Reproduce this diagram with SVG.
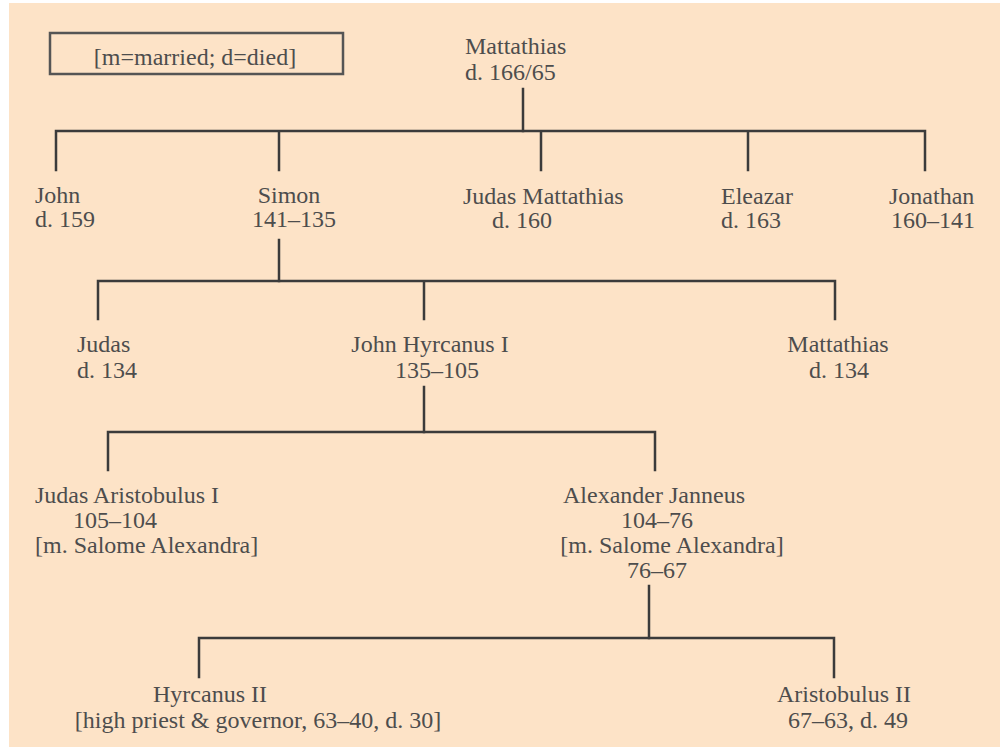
<svg xmlns="http://www.w3.org/2000/svg" width="1000" height="747" viewBox="0 0 1000 747">
  <style>
    .t { font-family: "Liberation Serif", "Times New Roman", serif; font-size: 24px; fill: #4d4d4d; }
    .m { text-anchor: middle; }
    .link { fill: none; stroke: #3b3b3b; stroke-width: 2.5; stroke-linejoin: miter; stroke-linecap: square; }
  </style>
  <rect x="0" y="0" width="1000" height="747" fill="#ffffff"/>
  <rect x="9" y="3" width="991" height="744" fill="#fde3c7"/>

  <!-- legend -->
  <g id="legend">
    <rect x="50" y="33" width="293" height="41" fill="none" stroke="#555" stroke-width="2.5"/>
    <text class="t m" x="195" y="65">[m=married; d=died]</text>
  </g>

  <!-- family lines -->
  <g id="connectors">
    <path class="link" d="M523,89 V131"/>
    <path class="link" d="M56,170 V131 H925 V170 M279,131 V170 M541,131 V170 M748,131 V170"/>
    <path class="link" d="M279,240 V281"/>
    <path class="link" d="M98,319 V281 H835 V319 M424,281 V319"/>
    <path class="link" d="M424,387 V432"/>
    <path class="link" d="M108,470 V432 H655 V470"/>
    <path class="link" d="M649,586 V638"/>
    <path class="link" d="M199,677 V638 H834 V677"/>
  </g>

  <!-- generation 1 -->
  <g id="mattathias">
    <text class="t" x="465" y="54">Mattathias</text>
    <text class="t" x="465" y="80">d. 166/65</text>
  </g>

  <!-- generation 2 -->
  <g id="john">
    <text class="t" x="35" y="203">John</text>
    <text class="t" x="35" y="227">d. 159</text>
  </g>
  <g id="simon">
    <text class="t m" x="289" y="203">Simon</text>
    <text class="t m" x="294" y="227">141–135</text>
  </g>
  <g id="judas-mattathias">
    <text class="t" x="463" y="204">Judas Mattathias</text>
    <text class="t" x="492" y="228">d. 160</text>
  </g>
  <g id="eleazar">
    <text class="t" x="721" y="204">Eleazar</text>
    <text class="t" x="721" y="228">d. 163</text>
  </g>
  <g id="jonathan">
    <text class="t" x="889" y="204">Jonathan</text>
    <text class="t" x="891" y="228">160–141</text>
  </g>

  <!-- generation 3 -->
  <g id="judas">
    <text class="t" x="77" y="352">Judas</text>
    <text class="t" x="77" y="378">d. 134</text>
  </g>
  <g id="john-hyrcanus-i">
    <text class="t m" x="430" y="352">John Hyrcanus I</text>
    <text class="t m" x="437" y="378">135–105</text>
  </g>
  <g id="mattathias-son">
    <text class="t m" x="838" y="352">Mattathias</text>
    <text class="t m" x="839" y="378">d. 134</text>
  </g>

  <!-- generation 4 -->
  <g id="judas-aristobulus-i">
    <text class="t" x="35" y="503">Judas Aristobulus I</text>
    <text class="t" x="73" y="528">105–104</text>
    <text class="t" x="35" y="553">[m. Salome Alexandra]</text>
  </g>
  <g id="alexander-janneus">
    <text class="t m" x="654" y="503">Alexander Janneus</text>
    <text class="t m" x="657" y="528">104–76</text>
    <text class="t m" x="672" y="553">[m. Salome Alexandra]</text>
    <text class="t m" x="657" y="578">76–67</text>
  </g>

  <!-- generation 5 -->
  <g id="hyrcanus-ii">
    <text class="t m" x="210" y="702">Hyrcanus II</text>
    <text class="t m" x="258" y="728">[high priest &amp; governor, 63–40, d. 30]</text>
  </g>
  <g id="aristobulus-ii">
    <text class="t m" x="844" y="702">Aristobulus II</text>
    <text class="t m" x="848" y="728">67–63, d. 49</text>
  </g>
</svg>
